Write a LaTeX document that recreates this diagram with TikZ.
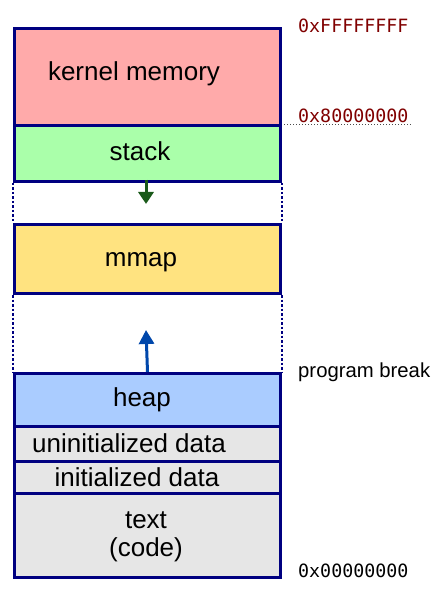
\documentclass[tikz,border=0pt]{standalone}
\usepackage{fontspec}
\setmainfont{Liberation Sans}
\newfontfamily\monof{DejaVu Sans Mono}
\usetikzlibrary{arrows.meta}
\definecolor{navy}{HTML}{000080}
\definecolor{kernelc}{HTML}{FFAAAA}
\definecolor{stackc}{HTML}{AAFFAA}
\definecolor{mmapc}{HTML}{FFE380}
\definecolor{heapc}{HTML}{AACCFF}
\definecolor{grayc}{HTML}{E6E6E6}
\definecolor{addrred}{HTML}{800000}
\definecolor{arrgreen}{HTML}{1A5A1A}
\definecolor{arrblue}{HTML}{0047AB}
\tikzset{
  seg/.style={draw=navy, line width=3pt, rectangle, inner sep=0pt, minimum width=266pt, anchor=north west},
  lbl/.style={font=\fontsize{26}{28}\selectfont, inner sep=0pt, anchor=base},
  addr/.style={font=\monof\fontsize{18.3}{22}\selectfont, inner sep=0pt, anchor=west},
  side/.style={draw=navy, line width=2.5pt, dash pattern=on 2.5pt off 2pt},
}
\begin{document}
\begin{tikzpicture}[x=1pt,y=-1pt]
\useasboundingbox (0,0) rectangle (443,601);
% segments
\node[seg, fill=grayc, minimum height=84pt] (text) at (13,492) {};
\node[seg, fill=grayc, minimum height=32pt] (init) at (13,460) {};
\node[seg, fill=grayc, minimum height=35pt] (uninit) at (13,425) {};
\node[seg, fill=heapc, minimum height=53pt] (heap) at (13,372) {};
\node[seg, fill=mmapc, minimum height=69pt] (mmap) at (13,223) {};
\node[seg, fill=stackc, minimum height=56pt] (stack) at (13,124) {};
\node[seg, fill=kernelc, minimum height=97pt] (kernel) at (13,27) {};
% dotted sides
\draw[side] (stack.south west) -- (mmap.north west);
\draw[side] (stack.south east) -- (mmap.north east);
\draw[side] (mmap.south west) -- (heap.north west);
\draw[side] (mmap.south east) -- (heap.north east);
% labels
\node[lbl] (tk) at (134,81) {kernel memory};
\node[lbl] (ts) at (140,161) {stack};
\node[lbl] (tm) at (141,266) {mmap};
\node[lbl] (th) at (142,406) {heap};
\node[lbl] (tu) at (129,452) {uninitialized data};
\node[lbl] (ti) at (137,486) {initialized data};
\node[lbl, align=center] (tt) at (146,556) {text\\(code)};
% arrows
\coordinate (gend) at (146,204);
\coordinate (bend) at (146,330);
\draw[arrgreen, line width=3pt, -{Triangle[length=12pt,width=15pt]}] (146,180) -- (gend);
\draw[arrblue, line width=3pt, -{Triangle[length=14pt,width=15pt]}] (heap.north) -- (bend);
% addresses
\node[addr, text=addrred] (aF) at (298,26) {0xFFFFFFFF};
\node[addr, text=addrred] (a8) at (298,116) {0x80000000};
\coordinate (dl) at (284,125);
\coordinate (dr) at (412,125);
\draw[black!70, line width=1pt, dotted] (dl) -- (dr);
\node[font=\fontsize{20.3}{24}\selectfont, inner sep=0pt, anchor=west] (pb) at (298,372) {program break};
\node[addr] (a0) at (298,571) {0x00000000};
\end{tikzpicture}
\end{document}
